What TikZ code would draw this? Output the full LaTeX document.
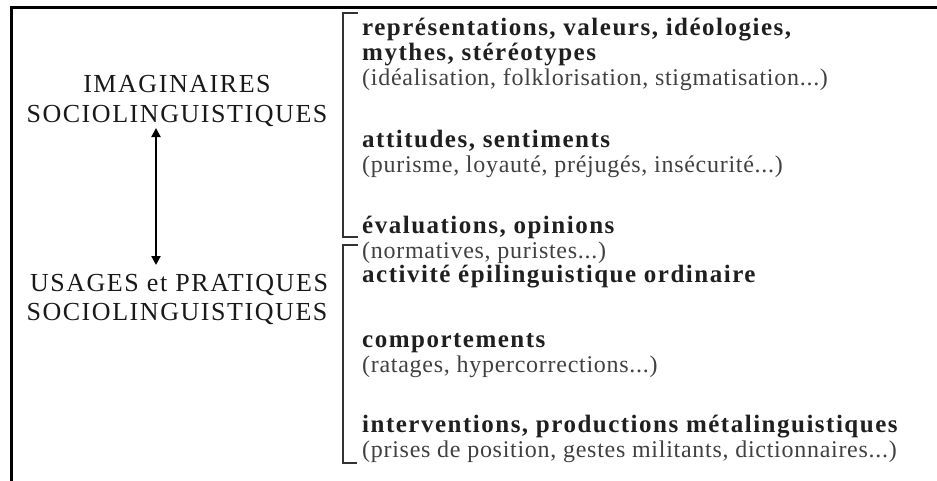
\documentclass[tikz,border=0pt]{standalone}
\usepackage{fontspec}
\setmainfont{Liberation Serif}
\newfontfamily\spacedfont[LetterSpace=6]{Liberation Serif}
\newfontfamily\headfont[LetterSpace=6]{Liberation Serif}
\newfontfamily\notefont[LetterSpace=3]{Liberation Serif}
\usetikzlibrary{arrows.meta}

\begin{document}
\begin{tikzpicture}[x=1pt,y=1pt]
\tikzstyle{every node}+=[inner sep=0pt]
\tikzstyle{sidelabel}=[anchor=base, font=\spacedfont\fontsize{26}{30}\selectfont, text=black!90]
\tikzstyle{itemhead}=[anchor=base west, font=\headfont\bfseries\fontsize{25}{25}\selectfont, text=black!88]
\tikzstyle{itemnote}=[anchor=base west, font=\notefont\fontsize{24}{25}\selectfont, text=black!75]
\tikzstyle{bracket}=[line width=1.4pt, black!80]
\useasboundingbox (0,0) rectangle (937,-480);
% frame (only top and left edges show)
\draw [line width=3pt] (11,-482) -- (11,-7) -- (940,-7);
% left labels
\draw (177,-92) node (imag1) [sidelabel] {IMAGINAIRES};
\draw (177,-122) node (imag2) [sidelabel] {SOCIOLINGUISTIQUES};
\draw (179,-291) node (usag1) [sidelabel] {USAGES et PRATIQUES};
\draw (177,-320) node (usag2) [sidelabel] {SOCIOLINGUISTIQUES};
\draw [line width=2pt, {Triangle[length=9pt,width=9pt]}-{Triangle[length=9pt,width=9pt]}]
  (156,-128) -- (156,-265);
% brackets
\draw [bracket] (358,-13) -- (343,-13) -- (343,-237) -- (358,-237);
\draw [bracket] (358,-245) -- (343,-245) -- (343,-463) -- (357,-463);
% right column
\draw (362,-35) node (repr1) [itemhead] {représentations, valeurs, idéologies,};
\draw (362,-60) node (repr2) [itemhead] {mythes, stéréotypes};
\draw (362,-85) node (repr3) [itemnote] {(idéalisation, folklorisation, stigmatisation...)};
\draw (362,-147) node (atti1) [itemhead] {attitudes, sentiments};
\draw (362,-172) node (atti2) [itemnote] {(purisme, loyauté, préjugés, insécurité...)};
\draw (362,-233) node (eval1) [itemhead] {évaluations, opinions};
\draw (362,-258) node (eval2) [itemnote] {(normatives, puristes...)};
\draw (362,-282) node (eval3) [itemhead] {activité épilinguistique ordinaire};
\draw (362,-347) node (comp1) [itemhead] {comportements};
\draw (362,-372) node (comp2) [itemnote] {(ratages, hypercorrections...)};
\draw (362,-432) node (inte1) [itemhead] {interventions, productions métalinguistiques};
\draw (362,-457) node (inte2) [itemnote] {(prises de position, gestes militants, dictionnaires...)};
\end{tikzpicture}
\end{document}
